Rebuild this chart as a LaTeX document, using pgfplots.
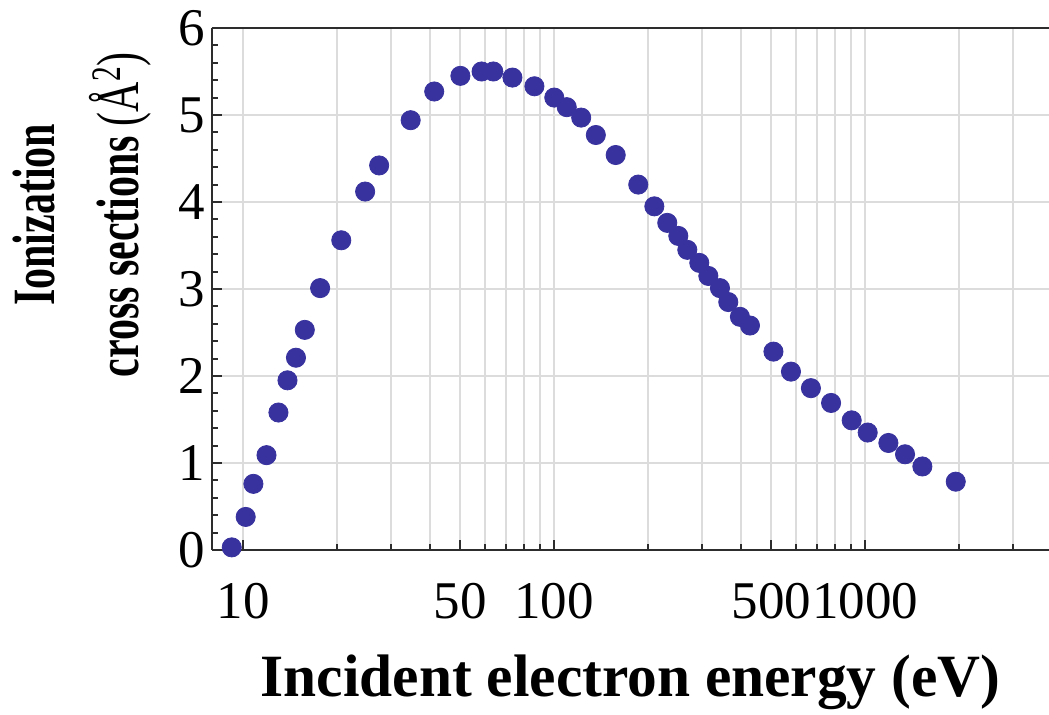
\documentclass[border=0pt]{standalone}
\usepackage{fontspec}
\setmainfont{Liberation Serif}
\usepackage{graphicx}
\usepackage{pgfplots}
\pgfplotsset{compat=1.18}
\usepackage{pgfplotstable}
\definecolor{dotblue}{RGB}{56,50,158}
\definecolor{gridgray}{RGB}{220,220,220}
\definecolor{axisgray}{RGB}{45,45,45}
\pgfplotstableread{
E y
9.2 0.03
10.2 0.38
10.8 0.76
11.9 1.09
13.0 1.58
13.9 1.95
14.8 2.21
15.8 2.53
17.7 3.01
20.7 3.56
24.7 4.12
27.4 4.42
34.6 4.94
41.2 5.27
50.0 5.45
58.5 5.50
63.8 5.50
73.5 5.43
86.5 5.33
100.2 5.20
109.9 5.09
122.3 4.97
136.3 4.77
157.9 4.54
186.6 4.20
210.2 3.95
231.3 3.76
251.0 3.61
268.3 3.45
293.2 3.30
313.5 3.15
341.7 3.01
363.4 2.85
396.1 2.68
426.7 2.58
507.6 2.28
578 2.05
670 1.86
778 1.69
906 1.49
1020 1.35
1189 1.23
1345 1.10
1529 0.96
1958 0.785
}\datatable
\begin{document}
\begin{tikzpicture}
\begin{axis}[
  scale only axis,
  width=418.5pt, height=261pt,
  xmode=log,
  xmin=7.95, xmax=3905,
  ymin=0, ymax=6,
  axis x line*=box,
  axis y line*=left,
  axis line style={line width=1.3pt, color=axisgray},
  xtick={10,50,100,500,1000},
  xticklabels={10,50,100,500,1000},
  minor xtick={20,30,40,60,70,80,90,200,300,400,600,700,800,900,2000,3000},
  ytick={0,1,2,3,4,5,6},
  minor y tick num=4,
  xtick pos=left,
  ytick pos=left,
  tick align=inside,
  major tick length=5pt,
  minor tick length=3pt,
  every tick/.style={axisgray, line width=1pt},
  xmajorgrids, xminorgrids, ymajorgrids,
  major grid style={gridgray, line width=1pt},
  minor grid style={gridgray, line width=1pt},
  /pgf/number format/assume math mode=true,
  tick label style={font=\fontsize{26.5}{30}\selectfont, color=black},
  xticklabel style={inner sep=0pt, anchor=north, yshift=-16.5pt},
  yticklabel style={inner sep=0pt, anchor=east, xshift=-3.5pt},
  every axis x label/.style={at={(rel axis cs:0.5,0)}, anchor=base, yshift=-73.5pt, font=\fontsize{30}{36}\selectfont\bfseries},
  every axis y label/.style={at={(rel axis cs:-0.2378,0.642)}, rotate=90, anchor=north, inner sep=0pt, align=center, font=\fontsize{30}{42}\selectfont\bfseries},
  xlabel={\scalebox{0.99}[1]{Incident electron energy (eV)}},
  ylabel={\scalebox{0.7}[1]{Ionization}\\ \scalebox{0.7}[1]{cross sections \textnormal{(Å\textsuperscript{2})}}},
  clip=false,
]
\addplot[only marks, mark=*, mark size=4.8pt, color=dotblue, mark options={fill=dotblue, draw=dotblue}] table[x=E, y=y] {\datatable};
\coordinate (bl) at (rel axis cs:0,0);
\coordinate (tr) at (rel axis cs:1,1);
\end{axis}
\pgfresetboundingbox
\path[use as bounding box] ([shift={(-106pt,-82.5pt)}]bl) rectangle ([shift={(0pt,14pt)}]tr);
\end{tikzpicture}
\end{document}
